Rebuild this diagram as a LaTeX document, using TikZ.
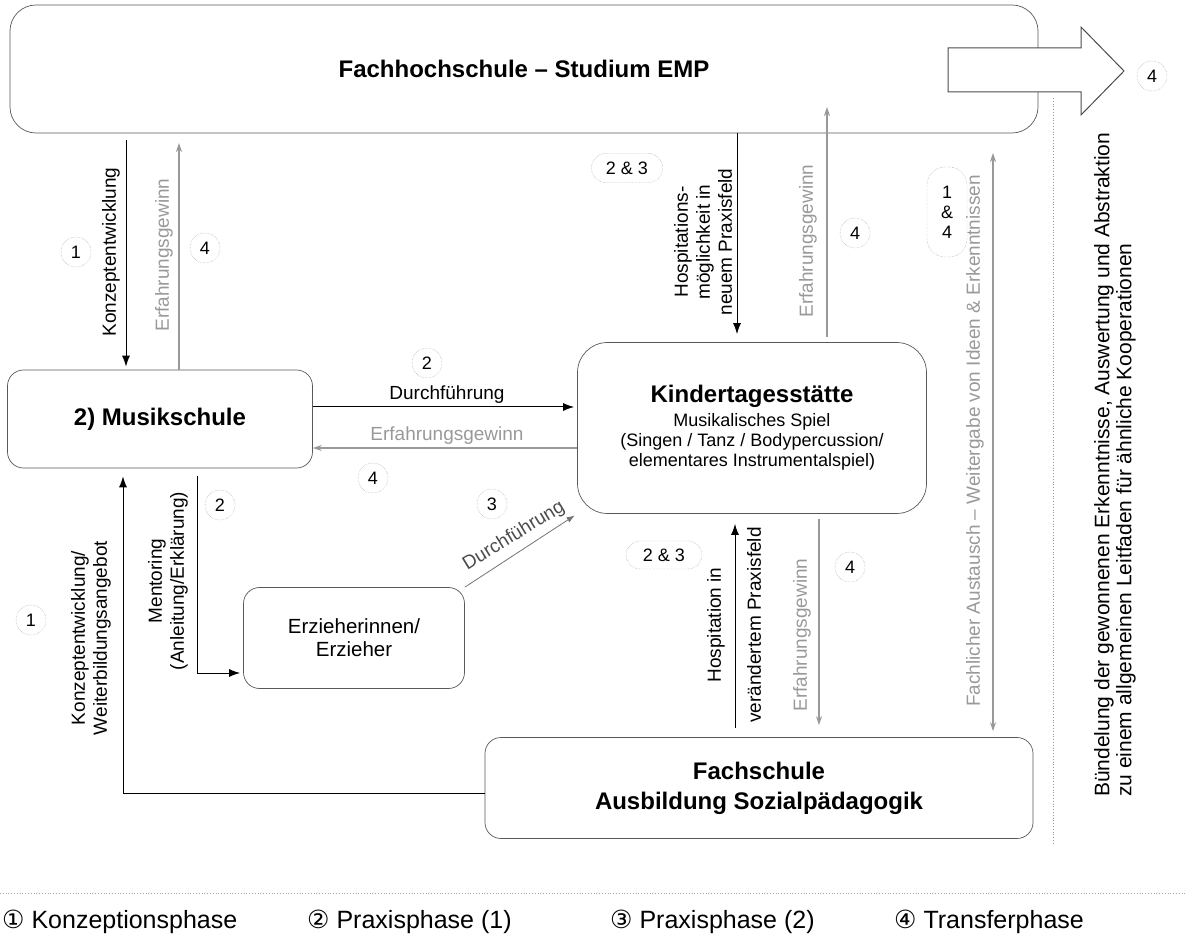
\documentclass[tikz,border=0pt]{standalone}
\usepackage{fontspec}
\setmainfont{Liberation Sans}
\newfontfamily\symfont{DejaVu Sans}
\usetikzlibrary{arrows.meta}

\begin{document}
\begin{tikzpicture}[x=1pt,y=1pt,yscale=-1,
    box/.style={draw=black!65, line width=0.7pt, rounded corners=16pt, inner sep=0pt, align=center},
    headfont/.style={font=\fontsize{24}{30}\selectfont\bfseries},
    lbl/.style={font=\fontsize{19}{22}\selectfont, align=center, inner sep=1pt},
    glbl/.style={lbl, text=black!40},
    num/.style={circle, draw=black!45, densely dotted, minimum size=30pt, inner sep=0pt, font=\fontsize{18}{20}\selectfont},
    pill/.style={draw=black!45, densely dotted, rounded corners=14pt, inner sep=0pt, align=center, font=\fontsize{18}{20}\selectfont},
    arr/.style={-{Latex[length=11pt,width=8pt]}, line width=1pt, shorten >=3pt},
    garr/.style={-{Stealth[length=9pt,width=6pt]}, line width=1.6pt, draw=black!40},
]

\useasboundingbox (0,0) rectangle (1187,949);

\node[box, rounded corners=26pt, minimum width=1028pt, minimum height=128pt, headfont] (fh) at (524,69) {Fachhochschule – Studium EMP};
\draw[black!70, line width=1pt, fill=white] (948,48) -- (1081,48) -- (1081,27) -- (1124,71) -- (1081,115) -- (1081,92) -- (948,92) -- cycle;
\node[num] (p4a) at (1152,76) {4};

\node[box, minimum width=305pt, minimum height=98pt, headfont] (musik) at (160,419) {2) Musikschule};
\node[box, rounded corners=30pt, minimum width=349pt, minimum height=171pt, font=\fontsize{18}{20}\selectfont] (kita) at (752,428)
  {{\fontsize{24}{30}\selectfont\bfseries Kindertagesstätte}\\[4pt] Musikalisches Spiel\\ (Singen / Tanz / Bodypercussion/\\ elementares Instrumentalspiel)};
\node[box, minimum width=221pt, minimum height=101pt, lbl, font=\fontsize{20.5}{23}\selectfont] (erz) at (354,638) {Erzieherinnen/\\Erzieher};
\node[box, minimum width=548pt, minimum height=101pt, headfont] (fs) at (759,788) {Fachschule\\Ausbildung Sozialpädagogik};

% Fachhochschule <-> Musikschule
\coordinate (kz) at (126,140);
\coordinate (eg) at (179,143);
\draw[arr] (kz) -- (kz |- musik.north);
\draw[garr] (eg |- musik.north) -- (eg);
\node[lbl, rotate=90] (kzl) at (111,252) {Konzeptentwicklung};
\node[glbl, rotate=90] (egl) at (164,255) {Erfahrungsgewinn};
\node[num] (p1a) at (76,252) {1};
\node[num] (p4b) at (205,248) {4};

% Musikschule <-> Kita
\coordinate (dg) at (0,407);
\coordinate (eh) at (0,448);
\draw[arr] (musik.east |- dg) -- (kita.west |- dg);
\node[lbl] (dgl) at (447,395) {Durchführung};
\draw[garr] (kita.west |- eh) -- (musik.east |- eh);
\node[glbl] (ehl) at (447,436) {Erfahrungsgewinn};
\node[num] (p2a) at (427,363) {2};
\node[num] (p4c) at (373,478) {4};

% Mentoring
\coordinate (mt) at (197,673);
\draw[arr, shorten <=8pt] (musik.south -| mt) -- (mt) -- (erz.west |- mt);
\node[lbl, rotate=90] (mtl) at (168,581) {Mentoring\\(Anleitung/Erklärung)};
\node[num] (p2b) at (220,505) {2};

% Fachschule -> Musikschule
\coordinate (kw) at (123,793);
\draw[arr, shorten >=8pt] (fs.west |- kw) -- (kw) -- (kw |- musik.south);
\node[lbl, rotate=90] (kwl) at (91,638) {Konzeptentwicklung/\\Weiterbildungsangebot};
\node[num] (p1b) at (31,620) {1};

% Erzieher -> Kita
\draw[arr, black!55, line width=0.8pt, -{Latex[length=8pt,width=6pt]}] (erz.north east) -- (kita.south west);
\node[lbl, text=black!70, rotate=31.5] (dgl3) at (514,536) {Durchführung};
\node[num] (p3) at (492,504) {3};

% Fachhochschule <-> Kita
\node[pill, minimum width=71pt, minimum height=29pt] (p23a) at (627,168) {2 \& 3};
\coordinate (hs) at (737,0);
\draw[arr, shorten >=8pt] (fh.south -| hs) -- (hs |- kita.north);
\node[lbl, rotate=90] (hsl) at (703,242) {Hospitations-\\möglichkeit in\\neuem Praxisfeld};
\coordinate (eo) at (827,107);
\draw[garr, shorten <=5pt] (eo |- kita.north) -- (eo);
\node[glbl, rotate=90] (eol) at (808,241) {Erfahrungsgewinn};
\node[num] (p4d) at (855,233) {4};

% Fachhochschule <-> Fachschule
\node[pill, minimum width=40pt, minimum height=90pt, rounded corners=18pt] (p14) at (947,212) {1\\\&\\4};
\coordinate (fa) at (993,153);
\draw[garr, {Stealth[length=9pt,width=6pt]}-{Stealth[length=9pt,width=6pt]}, shorten <=6pt] (fs.north -| fa) -- (fa);
\node[glbl, rotate=90] (fal) at (975,441) {Fachlicher Austausch – Weitergabe von Ideen \& Erkenntnissen};

% Kita <-> Fachschule
\node[pill, minimum width=76pt, minimum height=28pt] (p23b) at (664,555) {2 \& 3};
\coordinate (hu) at (735,0);
\draw[arr, shorten <=9pt, shorten >=10pt] (fs.north -| hu) -- (hu |- kita.south);
\node[lbl, rotate=90] (hul1) at (716,625) {Hospitation in};
\node[lbl, rotate=90] (hul2) at (754,625) {verändertem Praxisfeld};
\coordinate (ed) at (819,0);
\draw[garr, shorten <=5pt, shorten >=12pt] (kita.south -| ed) -- (fs.north -| ed);
\node[glbl, rotate=90] (edl) at (802,635) {Erfahrungsgewinn};
\node[num] (p4e) at (850,567) {4};

% Transfer
\draw[black!40, dotted, line width=0.8pt] (1053,98) -- (1053,845);
\node[rotate=90, anchor=west, align=left, inner sep=0pt, font=\fontsize{21}{22}\selectfont] (buend) at (1115,797) {Bündelung der gewonnenen Erkenntnisse, Auswertung und Abstraktion\\zu einem allgemeinen Leitfaden für ähnliche Kooperationen};

% Legende
\draw[black!35, dotted, line width=0.8pt] (0,893) -- (1187,893);
\node[anchor=west, inner sep=0pt, font=\fontsize{25}{28}\selectfont] (lg1) at (2,922) {{\symfont ①} Konzeptionsphase};
\node[anchor=west, inner sep=0pt, font=\fontsize{25}{28}\selectfont] (lg2) at (307,922) {{\symfont ②} Praxisphase (1)};
\node[anchor=west, inner sep=0pt, font=\fontsize{25}{28}\selectfont] (lg3) at (610,922) {{\symfont ③} Praxisphase (2)};
\node[anchor=west, inner sep=0pt, font=\fontsize{25}{28}\selectfont] (lg4) at (894,922) {{\symfont ④} Transferphase};

\end{tikzpicture}
\end{document}
